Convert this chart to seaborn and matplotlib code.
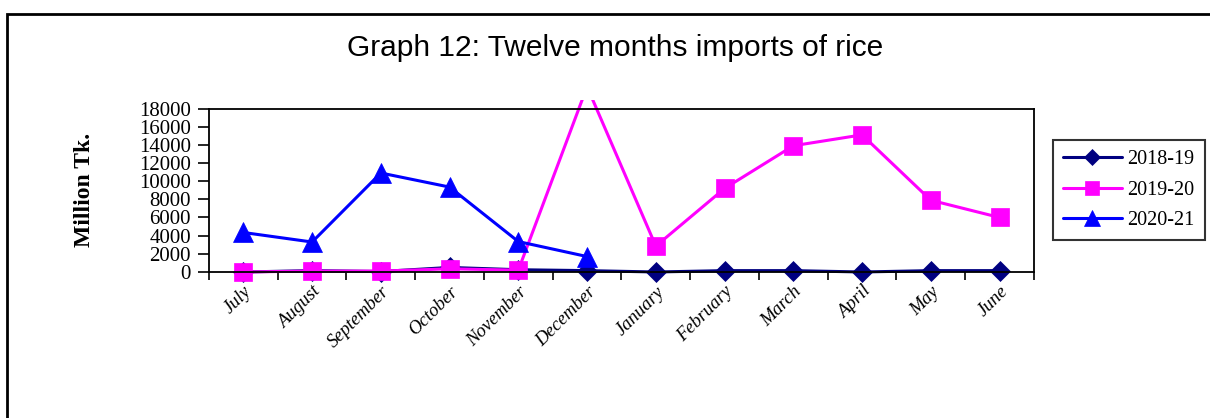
import numpy as np
import pandas as pd
import seaborn as sns
import matplotlib
import matplotlib.pyplot as plt
from matplotlib.patches import Rectangle
from matplotlib.transforms import Bbox, TransformedBbox
from matplotlib.ticker import FixedLocator

months = ["July", "August", "September", "October", "November", "December",
          "January", "February", "March", "April", "May", "June"]
years = ["2018-19", "2019-20", "2020-21"]
imports_2018_19 = [0, 150, 50, 500, 250, 150, 0, 150, 150, 0, 150, 150]
imports_2019_20 = [0, 100, 100, 350, 200, 20400, 2850, 9200, 13900, 15100, 7900, 6000]
imports_2020_21 = [4350, 3300, 10900, 9350, 3350, 1700, None, None, None, None, None, None]

colors = {"2018-19": "#000080", "2019-20": "#FF00FF", "2020-21": "#0000FF"}
markers = {"2018-19": "D", "2019-20": "s", "2020-21": "^"}
msizes = {"2018-19": 10, "2019-20": 13, "2020-21": 14}

df = pd.DataFrame({"month": months * 3,
                   "pos": list(range(12)) * 3,
                   "year": np.repeat(years, 12),
                   "value": imports_2018_19 + imports_2019_20 + imports_2020_21})
df = df.dropna()

sns.set_style("white")
plt.rcParams["font.family"] = ["Liberation Serif", "DejaVu Serif"]
plt.rcParams["text.color"] = "black"
plt.rcParams["xtick.color"] = "black"
plt.rcParams["ytick.color"] = "black"
plt.rcParams["axes.labelcolor"] = "black"

fig = plt.figure(figsize=(12.1, 4.18), dpi=100)
ax = fig.add_axes([0.1727, 0.3493, 0.6818, 0.3911])

for yr in years:
    sub = df[df["year"] == yr]
    sns.lineplot(data=sub, x="pos", y="value", ax=ax, color=colors[yr],
                 marker=markers[yr], markersize=msizes[yr], markeredgecolor=colors[yr],
                 markeredgewidth=0.5, linewidth=2.2, label=yr, sort=False)

# pink peak runs a bit past the top of the plot area and is cut there
clip = TransformedBbox(Bbox([[-0.05, -0.1], [1.05, 1.055]]), ax.transAxes)
for line in ax.lines:
    line.set_clip_box(clip)

ax.set_xlim(-0.5, 11.5)
ax.set_ylim(0, 18000)
ax.set_yticks(np.arange(0, 18001, 2000))
ax.set_xticks(range(12))
ax.set_xticklabels(months, rotation=45, ha="right", va="top", fontstyle="italic",
                   fontsize=13.5, rotation_mode="anchor")
ax.xaxis.set_minor_locator(FixedLocator(np.arange(-0.5, 12, 1)))
ax.tick_params(axis="x", which="major", length=0, pad=8)
ax.tick_params(axis="x", which="minor", length=6, width=1.2, direction="out", bottom=True)
ax.tick_params(axis="y", length=8, width=1.2, direction="out", left=True, labelsize=15, pad=5)
ax.set_xlabel("")
ax.set_ylabel("Million Tk.", fontsize=17, fontweight="bold")
ax.yaxis.set_label_coords(-0.138, 0.5)
for s in ax.spines.values():
    s.set_color("black")
    s.set_linewidth(1.3)

leg = ax.legend(loc="center left", bbox_to_anchor=(1043 / 1210, 1 - 190 / 418),
                bbox_transform=fig.transFigure, fontsize=14.5, handlelength=2.9,
                labelspacing=0.55, frameon=True, fancybox=False, borderpad=0.5,
                handletextpad=0.3, markerscale=0.8)
leg.get_frame().set_edgecolor("black")
leg.get_frame().set_linewidth(1.5)

fig.text(0.508, 1 - 48 / 418, "Graph 12: Twelve months imports of rice",
         family="Liberation Sans", fontsize=21.5, ha="center", va="center")

fig.patches.append(Rectangle((7 / 1210, -0.2), 1.2, 1.2 - 14 / 418, transform=fig.transFigure,
                             fill=False, edgecolor="black", linewidth=2, clip_on=False))

fig.savefig("out.png", dpi=100)
